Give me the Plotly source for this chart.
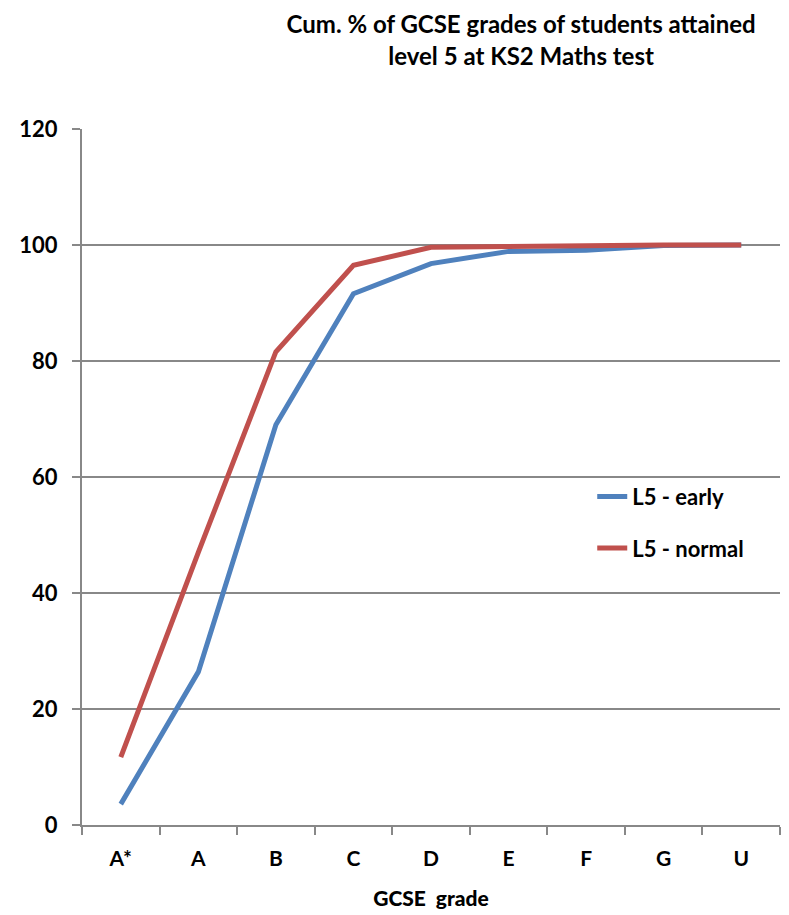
import plotly.graph_objects as go

grades = ["A*", "A", "B", "C", "D", "E", "F", "G", "U"]
l5_early = [3.6, 26.4, 69.0, 91.6, 96.8, 98.9, 99.1, 99.9, 100.0]
l5_normal = [11.7, 47.0, 81.6, 96.5, 99.6, 99.8, 99.9, 100.0, 100.0]

font_name = "Lato"

fig = go.Figure()
fig.add_trace(go.Scatter(x=grades, y=l5_early, mode="lines", name="L5 - early",
                         legendgroup="a", line=dict(color="#4F81BD", width=5)))
fig.add_trace(go.Scatter(x=grades, y=l5_normal, mode="lines", name="L5 - normal",
                         legendgroup="b", line=dict(color="#C0504D", width=5)))

# page body has an 8px margin, so the figure is a bit smaller than the window
fig.update_layout(
    width=781, height=907,
    margin=dict(l=74, r=9, t=121, b=90),
    paper_bgcolor="white", plot_bgcolor="white",
    font=dict(family=font_name, color="black", size=22, weight="bold"),
    title=dict(
        text="Cum. % of GCSE grades of students attained<br>level 5 at KS2 Maths test",
        x=0.657, xanchor="center", y=0.972, yanchor="top",
        font=dict(size=24, family=font_name, weight="bold"),
    ),
    legend=dict(x=0.731, y=0.502, xanchor="left", yanchor="top",
                bgcolor="rgba(0,0,0,0)", tracegroupgap=20,
                font=dict(size=22, family=font_name, weight="bold")),
    showlegend=True,
)
fig.update_xaxes(
    range=[-0.5, 8.5],
    showline=True, linecolor="#888888", linewidth=2,
    ticks="outside", tickson="boundaries", ticklen=8, tickcolor="#888888", tickwidth=2,
    tickfont=dict(size=21, weight="bold"), showgrid=False, ticklabelstandoff=14,
    title=dict(text="GCSE  grade", standoff=22,
               font=dict(size=21, family=font_name, weight=900, color="black")),
)
fig.update_yaxes(
    range=[0, 120], dtick=20,
    showline=True, linecolor="#888888", linewidth=2,
    ticks="outside", ticklen=8, tickcolor="#888888", tickwidth=2,
    showgrid=True, gridcolor="#888888", gridwidth=2, ticklabelstandoff=10,
    tickfont=dict(size=22, weight="bold"), zeroline=False,
)

fig.write_html("out.html")
